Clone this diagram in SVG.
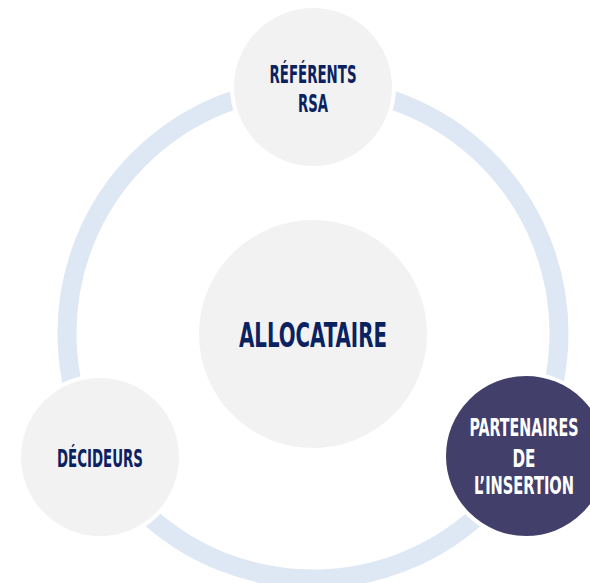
<svg xmlns="http://www.w3.org/2000/svg" width="590" height="583" viewBox="0 0 590 583">
<style>
.ring{fill:none;stroke:#dde8f4;stroke-width:19}
.node{fill:#f2f2f2;stroke:#ffffff;stroke-width:4}
.dark{fill:#433f6b;stroke:#ffffff;stroke-width:4}
.t{font-family:"DejaVu Sans Condensed","Liberation Sans",sans-serif;font-weight:bold;fill:#0b2260;text-anchor:middle}
.w{fill:#ffffff}
</style>
<rect width="590" height="583" fill="#ffffff"/>
<g id="connectors">
<circle class="ring" cx="313" cy="333" r="246"/>
</g>
<g id="allocataire">
<circle class="node" cx="313" cy="334" r="116"/>
<text class="t" x="313" y="347" font-size="34" textLength="148" lengthAdjust="spacingAndGlyphs">ALLOCATAIRE</text>
</g>
<g id="referents">
<circle class="node" cx="313" cy="87" r="81"/>
<text class="t" x="313" y="83" font-size="25" textLength="87" lengthAdjust="spacingAndGlyphs">RÉFÉRENTS</text>
<text class="t" x="313" y="112" font-size="25" textLength="30" lengthAdjust="spacingAndGlyphs">RSA</text>
</g>
<g id="decideurs">
<circle class="node" cx="100" cy="457" r="81"/>
<text class="t" x="100" y="467" font-size="25" textLength="86" lengthAdjust="spacingAndGlyphs">DÉCIDEURS</text>
</g>
<g id="partenaires">
<circle class="dark" cx="526" cy="456" r="82"/>
<text class="t w" x="524" y="436" font-size="24" textLength="109" lengthAdjust="spacingAndGlyphs">PARTENAIRES</text>
<text class="t w" x="524" y="467" font-size="24" textLength="23" lengthAdjust="spacingAndGlyphs">DE</text>
<text class="t w" x="524" y="494" font-size="24" textLength="100" lengthAdjust="spacingAndGlyphs">L’INSERTION</text>
</g>
</svg>
